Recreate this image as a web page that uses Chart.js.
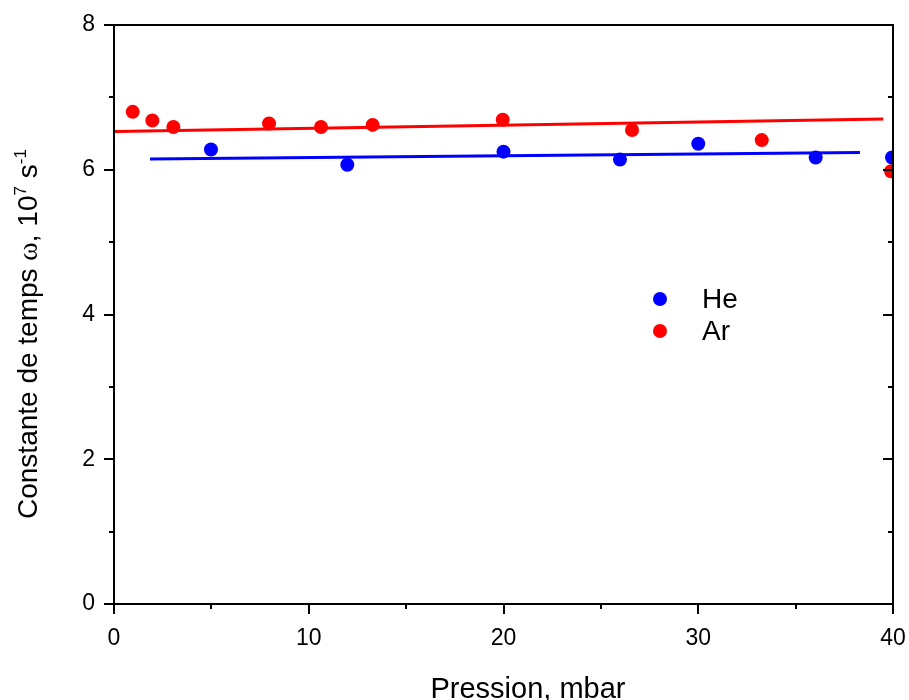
<!DOCTYPE html>
<html>
<head>
<meta charset="utf-8">
<script src="https://cdn.jsdelivr.net/npm/chart.js@4.4.1/dist/chart.umd.min.js"></script>
<style>
html,body{margin:0;padding:0;background:#fff;}
#wrap{width:909px;height:700px;position:relative;}
</style>
</head>
<body>
<div id="wrap"><canvas id="c" width="909" height="700"></canvas></div>
<script>
// ---- data ----
const heX = [4.98, 11.98, 20.0, 25.98, 30.0, 36.03, 39.95];
const heY = [6.28, 6.07, 6.25, 6.14, 6.36, 6.17, 6.17];
const arX = [0.96, 1.97, 3.05, 7.96, 10.63, 13.28, 19.96, 26.6, 33.26, 39.9];
const arY = [6.80, 6.68, 6.59, 6.64, 6.59, 6.62, 6.69, 6.55, 6.41, 5.98];
const heFitX = [1.85, 38.3];
const heFitY = [6.15, 6.24];
const arFitX = [0.05, 39.5];
const arFitY = [6.53, 6.70];
const xTicks = [0, 10, 20, 30, 40];
const yTicks = [0, 2, 4, 6, 8];
const seriesNames = ['He', 'Ar'];
const xTitle = 'Pression, mbar';

const BLUE = '#0000ff', RED = '#ff0000';
const FONT = '"Liberation Sans", Arial, sans-serif';
const pts = (xs, ys) => xs.map((x, i) => ({x: x, y: ys[i]}));

const framePlugin = {
  id: 'frame',
  afterDraw(chart) {
    const ctx = chart.ctx, a = chart.chartArea;
    const xs = chart.scales.x, ys = chart.scales.y;
    ctx.save();
    ctx.strokeStyle = '#000';
    ctx.lineWidth = 2;
    ctx.strokeRect(a.left, a.top, a.right - a.left, a.bottom - a.top);
    ctx.beginPath();
    for (let v = 0; v <= 40; v += 5) {
      const p = Math.round(xs.getPixelForValue(v));
      const len = (v % 10 === 0) ? 10 : 5;
      ctx.moveTo(p, a.bottom); ctx.lineTo(p, a.bottom + len);
    }
    for (let v = 0; v <= 8; v += 1) {
      const p = Math.round(ys.getPixelForValue(v));
      const len = (v % 2 === 0) ? 10 : 5;
      ctx.moveTo(a.left, p); ctx.lineTo(a.left - len, p);
      ctx.moveTo(a.right, p); ctx.lineTo(a.right - len, p);
    }
    ctx.stroke();

    ctx.fillStyle = '#000';
    ctx.font = '29px ' + FONT;
    ctx.textAlign = 'center';
    ctx.textBaseline = 'alphabetic';
    ctx.fillText(xTitle, 528, 698);

    ctx.save();
    ctx.translate(37, 519);
    ctx.rotate(-Math.PI / 2);
    ctx.textAlign = 'left';
    const parts = [
      {t: 'Constante de temps ', f: '28px ' + FONT, dy: 0},
      {t: '\u03c9', f: '28px "Liberation Serif", serif', dy: 0},
      {t: ', 10', f: '28px ' + FONT, dy: 0},
      {t: '7', f: '17px ' + FONT, dy: -11},
      {t: ' s', f: '28px ' + FONT, dy: 0},
      {t: '-1', f: '17px ' + FONT, dy: -11}
    ];
    let x = 0;
    parts.forEach(p => {
      ctx.font = p.f;
      ctx.fillText(p.t, x, p.dy);
      x += ctx.measureText(p.t).width;
    });
    ctx.restore();

    const legendItems = [
      {name: seriesNames[0], color: BLUE, y: 299},
      {name: seriesNames[1], color: RED, y: 331}
    ];
    legendItems.forEach(it => {
      ctx.beginPath();
      ctx.fillStyle = it.color;
      ctx.arc(660, it.y, 7, 0, Math.PI * 2);
      ctx.fill();
      ctx.fillStyle = '#000';
      ctx.font = '28px ' + FONT;
      ctx.textAlign = 'left';
      ctx.textBaseline = 'middle';
      ctx.fillText(it.name, 702, it.y + 1);
    });
    ctx.restore();
  }
};

function zeroPad(s) { s.paddingLeft = 0; s.paddingRight = 0; s.paddingTop = 0; s.paddingBottom = 0; }

new Chart(document.getElementById('c'), {
  type: 'scatter',
  data: {
    datasets: [
      {label: seriesNames[0] + ' fit', type: 'line', data: pts(heFitX, heFitY), borderColor: BLUE, borderWidth: 3, pointRadius: 0, fill: false, tension: 0},
      {label: seriesNames[1] + ' fit', type: 'line', data: pts(arFitX, arFitY), borderColor: RED, borderWidth: 3, pointRadius: 0, fill: false, tension: 0},
      {label: seriesNames[0], data: pts(heX, heY), backgroundColor: BLUE, borderColor: BLUE, pointRadius: 7, borderWidth: 0, clip: 0},
      {label: seriesNames[1], data: pts(arX, arY), backgroundColor: RED, borderColor: RED, pointRadius: 7, borderWidth: 0, clip: 0}
    ]
  },
  options: {
    responsive: false,
    animation: false,
    events: [],
    layout: {padding: {left: 0, right: 16, top: 25, bottom: 0}},
    plugins: {legend: {display: false}, tooltip: {enabled: false}},
    scales: {
      x: {
        type: 'linear', min: 0, max: 40,
        afterFit(s) { s.height = 96; zeroPad(s); },
        afterBuildTicks(s) { s.ticks = xTicks.map(v => ({value: v})); },
        grid: {display: false, drawTicks: false},
        border: {display: false},
        ticks: {color: '#000', font: {family: FONT, size: 23}, padding: 21, maxRotation: 0, autoSkip: false}
      },
      y: {
        type: 'linear', min: 0, max: 8,
        afterFit(s) { s.width = 114; zeroPad(s); },
        afterBuildTicks(s) { s.ticks = yTicks.map(v => ({value: v})); },
        grid: {display: false, drawTicks: false},
        border: {display: false},
        ticks: {color: '#000', font: {family: FONT, size: 23}, padding: 19, autoSkip: false}
      }
    }
  },
  plugins: [framePlugin]
});
</script>
</body>
</html>
